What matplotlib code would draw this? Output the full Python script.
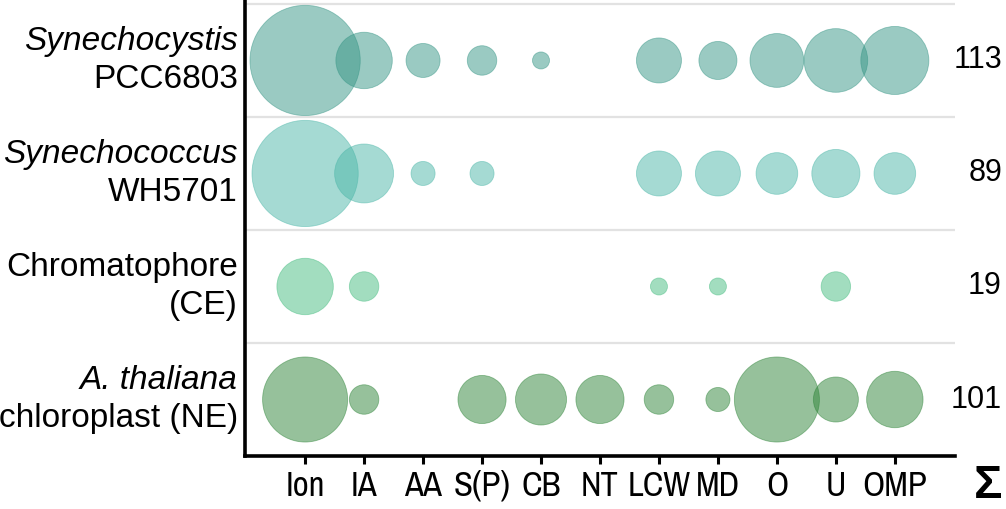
import matplotlib

matplotlib.use("Agg")
import matplotlib.pyplot as plt
import numpy as np
from matplotlib.transforms import blended_transform_factory

# ---------------------------------------------------------------------------
# data (bubble area ~ count, 0 = no bubble)
# ---------------------------------------------------------------------------
categories = ["Ion", "IA", "AA", "S(P)", "CB", "NT", "LCW", "MD", "O", "U", "OMP"]

synechocystis = [42, 11, 4, 3, 1, 0, 7, 5, 10, 14, 16]
synechococcus = [39, 12, 2, 2, 0, 0, 7, 7, 6, 8, 6]
chromatophore = [11, 3, 0, 0, 0, 0, 1, 1, 0, 3, 0]
thaliana = [25, 3, 0, 8, 9, 8, 3, 2, 25, 7, 11]

row_counts = [synechocystis, synechococcus, chromatophore, thaliana]
row_totals = [113, 89, 19, 101]
row_top = ["Synechocystis", "Synechococcus", "Chromatophore", "A. thaliana"]
row_bottom = ["PCC6803", "WH5701", "(CE)", "chloroplast (NE)"]
row_top_italic = [True, True, False, True]
row_colors = ["#379686", "#4db7a9", "#47bd81", "#2f8539"]

SIZE_PER_COUNT = 150.0
NARROW = ["Liberation Sans Narrow", "Archivo Narrow", "Liberation Sans", "DejaVu Sans"]
REGULAR = ["Liberation Sans", "DejaVu Sans"]

fig = plt.figure(figsize=(10.06, 5.09), dpi=100)
ax = fig.add_axes([0.2435, 0.1041, 0.7058, 0.8959])

x = np.arange(len(categories))
for row, (counts, color) in enumerate(zip(row_counts, row_colors)):
    counts = np.asarray(counts, dtype=float)
    keep = counts > 0
    ax.scatter(
        x[keep],
        np.full(keep.sum(), row),
        s=counts[keep] * SIZE_PER_COUNT,
        color=color,
        alpha=0.5,
        edgecolors=color,
        linewidths=0.6,
        zorder=3,
    )

# row separators
for yy in np.arange(-0.5, len(row_counts) - 0.5, 1.0):
    ax.axhline(yy, color="#e2e2e2", linewidth=1.6, zorder=1)

ax.set_xlim(-1.02, len(categories) + 0.02)
ax.set_ylim(len(row_counts) - 0.5, -0.535)

for side in ["top", "right"]:
    ax.spines[side].set_visible(False)
for side in ["left", "bottom"]:
    ax.spines[side].set_linewidth(2.6)
    ax.spines[side].set_color("black")

ax.set_yticks([])
ax.set_xticks(x)
ax.set_xticklabels(categories, family=NARROW, fontsize=25)
ax.tick_params(axis="x", direction="out", length=5.8, width=2.2, pad=4)

# row labels, two lines each
label_tr = blended_transform_factory(fig.transFigure, ax.transData)
for row in range(len(row_counts)):
    ax.annotate(
        row_top[row],
        xy=(238 / 1006, row),
        xycoords=label_tr,
        xytext=(0, 14),
        textcoords="offset points",
        ha="right",
        va="center",
        fontsize=24,
        family=REGULAR,
        style="italic" if row_top_italic[row] else "normal",
    )
    ax.annotate(
        row_bottom[row],
        xy=(238 / 1006, row),
        xycoords=label_tr,
        xytext=(0, -14),
        textcoords="offset points",
        ha="right",
        va="center",
        fontsize=24,
        family=REGULAR,
    )
    ax.text(
        1002 / 1006,
        row,
        str(row_totals[row]),
        transform=label_tr,
        ha="right",
        va="center",
        fontsize=22,
        family=REGULAR,
    )

fig.text(
    988 / 1006,
    1 - 486 / 509,
    "\u03a3",
    ha="center",
    va="center",
    fontsize=34,
    fontweight="bold",
    family=REGULAR,
)

fig.savefig("out.png", dpi=100)
